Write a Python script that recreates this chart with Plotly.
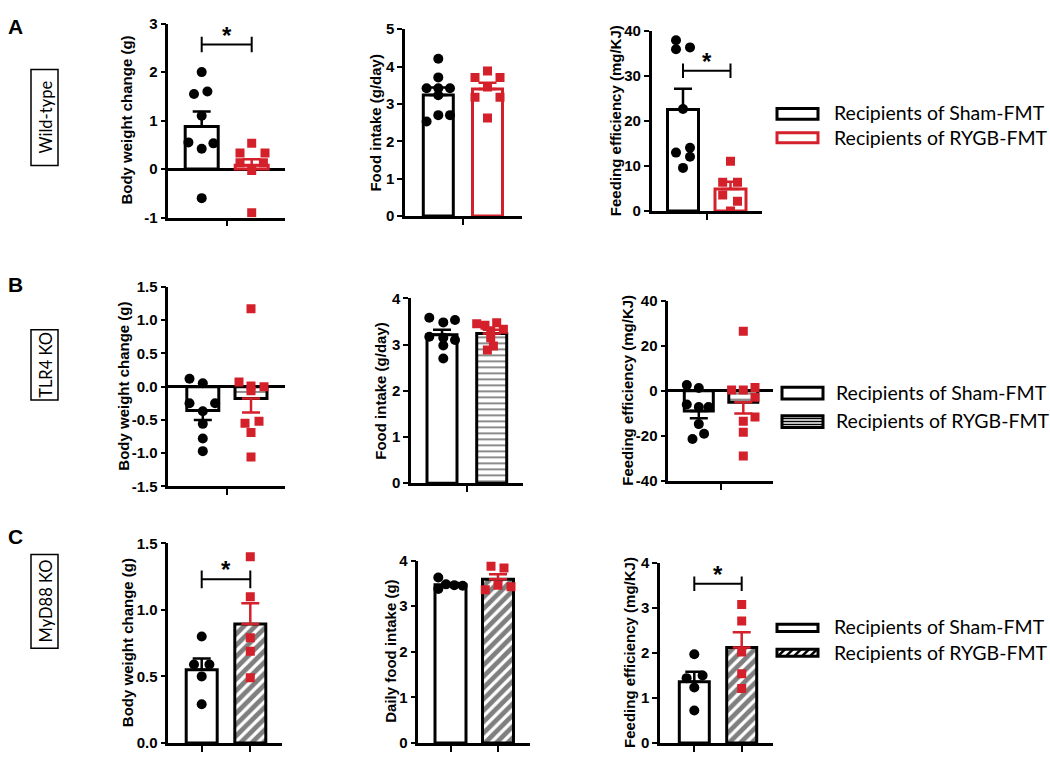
import plotly.graph_objects as go

W, H = 1050, 759
RED = "#D3202A"

# ---------------- data ----------------
# A  wild-type
wt_bw_sham = [2.0, 1.55, 1.6, 1.1, 0.55, 0.42, 0.53, -0.6]
wt_bw_rygb = [0.53, 0.33, 0.33, 0.13, 0.13, -0.03, -0.9]
wt_fi_sham = [4.21, 3.71, 3.42, 3.42, 3.42, 3.23, 2.70, 2.70, 2.53]
wt_fi_rygb = [3.88, 3.71, 3.71, 3.45, 3.18, 3.18, 2.62]
wt_fe_sham = [38.0, 36.0, 36.4, 22.7, 13.0, 14.1, 12.1, 9.6]
wt_fe_rygb = [11.1, 6.4, 6.4, 3.6, 2.2, 0.0]

# B  TLR4 KO
tlr_bw_sham = [0.12, 0.05, -0.25, -0.25, -0.37, -0.56, -0.78, -0.97]
tlr_bw_rygb = [1.17, 0.07, 0.01, 0.0, -0.06, -0.55, -0.52, -0.69, -1.06]
tlr_fi_sham = [3.58, 3.48, 3.53, 3.17, 3.15, 3.10, 2.98, 2.70]
tlr_fi_rygb = [3.45, 3.42, 3.47, 3.33, 3.30, 3.15, 2.97, 2.88]
tlr_fe_sham = [2.5, 1.2, -6.1, -7.2, -7.2, -14.8, -19.1, -21.4]
tlr_fe_rygb = [26.4, 0.3, 0.3, 1.4, -2.9, -11.6, -13.5, -18.4, -29.0]

# C  MyD88 KO
myd_bw_sham = [0.80, 0.59, 0.59, 0.50, 0.29]
myd_bw_rygb = [1.40, 1.10, 0.79, 0.69, 0.49]
myd_fi_sham = [3.63, 3.38, 3.48, 3.46, 3.45]
myd_fi_rygb = [3.88, 3.84, 3.46, 3.43, 3.36]
myd_fe_sham = [1.97, 1.44, 1.50, 1.23, 0.72]
myd_fe_rygb = [3.08, 2.71, 2.02, 1.54, 1.21]

# bar height (mean) and SEM, [sham, rygb]
wt_bw_mean, wt_bw_sem = [0.88, 0.08], [0.31, 0.12]
wt_fi_mean, wt_fi_sem = [3.24, 3.40], [0.20, 0.17]
wt_fe_mean, wt_fe_sem = [22.6, 4.9], [4.6, 1.6]
tlr_bw_mean, tlr_bw_sem = [-0.36, -0.18], [0.14, 0.21]
tlr_fi_mean, tlr_fi_sem = [3.21, 3.24], [0.11, 0.08]
tlr_fe_mean, tlr_fe_sem = [-9.0, -5.1], [3.2, 5.0]
myd_bw_mean, myd_bw_sem = [0.55, 0.895], [0.085, 0.155]
myd_fi_mean, myd_fi_sem = [3.47, 3.59], [0.04, 0.11]
myd_fe_mean, myd_fe_sem = [1.36, 2.12], [0.22, 0.34]

legend_labels = ["Recipients of Sham-FMT", "Recipients of RYGB-FMT"]

# ---------------- layout helpers ----------------
# horizontal scatter of the dots around each bar, in px
jit = {
    "a1": ([0, -7.7, 5.7, 0, -13.3, 0, 11.7, 0], [0, -11.7, 13.3, -11.7, 11.7, 0, 0]),
    "a2": ([0, 0, -11.7, 0, 11.7, 0, 0, 11.7, -11.7], [0, -12.5, 12.5, 0, -12.5, 12.5, 0]),
    "a3": ([-7, -7, 7, 0, -7, 7, 7, 0], [0, -7.8, 7, -7.8, 7, 0]),
    "b1": ([-13.3, 0, -13.3, 12.3, 0, 0, 0, 0], [0, -12, 0, 13, 0, -6, 8, 0, 0]),
    "b2": ([-12.7, 1.3, 13, -12.7, 1.3, 13, 1.3, 1.3], [-15, -6.7, 5, 11.7, -1, -1, 1.7, -4.3]),
    "b3": ([-12, 0, -12, 0, 9.7, 0, 5.3, -6.3], [0, -11.7, 0, 11.7, 11.7, 11.7, 0, 0, 0]),
    "c1": ([0, -7.7, 7.7, 0, 0], [0, 0, 0, 0, 0]),
    "c2": ([-12.2, -12.2, -4.5, 3.8, 12.2], [-7, 6, 0, 13, -12.7]),
    "c3": ([0, -7.7, 8.3, 0, 0], [0, 0, 0, 0, 0]),
}

# key, row, sham, rygb, mean, sem, (x0, x1, bar0, bar1, ytop, ybot), yrange, dtick, decimals, bar px, title, title x
panels = [
    ("a1", "A", wt_bw_sham, wt_bw_rygb, wt_bw_mean, wt_bw_sem, (168.3, 285, 201.7, 251.7, 15, 213.3),
     [-1, 3], 1, 0, 33, "Body weight change (g)", 127),
    ("a2", "A", wt_fi_sham, wt_fi_rygb, wt_fi_mean, wt_fi_sem, (405, 521.7, 438.3, 487.5, 20.7, 211.7),
     [0, 5], 1, 0, 30, "Food intake (g/day)", 376),
    ("a3", "A", wt_fe_sham, wt_fe_rygb, wt_fe_mean, wt_fe_sem, (651.7, 761.7, 683, 730.5, 22.7, 206.7),
     [0, 40], 10, 0, 31, "Feeding efficiency (mg/KJ)", 615),
    ("b1", "B", tlr_bw_sham, tlr_bw_rygb, tlr_bw_mean, tlr_bw_sem, (168.3, 285, 202.8, 251, 284.3, 488.3),
     [-1.5, 1.5], 0.5, 1, 32, "Body weight change (g)", 124),
    ("b2", "B", tlr_fi_sham, tlr_fi_rygb, tlr_fi_mean, tlr_fi_sem, (411, 523, 442, 491.7, 296, 485),
     [0, 4], 1, 0, 30, "Food intake (g/day)", 381),
    ("b3", "B", tlr_fe_sham, tlr_fe_rygb, tlr_fe_mean, tlr_fe_sem, (668.3, 773, 698.8, 743.3, 298.3, 482.7),
     [-40, 40], 20, 0, 29, "Feeding efficiency (mg/KJ)", 628),
    ("c1", "C", myd_bw_sham, myd_bw_rygb, myd_bw_mean, myd_bw_sem, (168.3, 281.7, 201.7, 250.3, 546.7, 750.7),
     [0, 1.5], 0.5, 1, 31, "Body weight change (g)", 127),
    ("c2", "C", myd_fi_sham, myd_fi_rygb, myd_fi_mean, myd_fi_sem, (418.3, 530, 450.5, 498, 564.3, 750.7),
     [0, 4], 1, 0, 31, "Daily food intake (g)", 391),
    ("c3", "C", myd_fe_sham, myd_fe_rygb, myd_fe_mean, myd_fe_sem, (660, 773.3, 694.3, 741.7, 566.7, 750.7),
     [0, 4], 1, 0, 30, "Feeding efficiency (mg/KJ)", 630),
]

# significance brackets: panel key -> (y value, half height)
brackets = {"a1": (2.57, 0.16), "a3": (31.2, 1.6), "c1": (1.23, 0.066), "c3": (3.54, 0.16)}

TICKFONT = dict(family="Liberation Sans", size=15, color="black", weight="bold")
TITLEFONT = dict(family="Liberation Sans", size=15, color="black", weight="bold")
TEXTFONT = dict(family="Lato", size=19.5, color="black")

fig = go.Figure()
shapes = []
annotations = []


def px(x, y):
    return x / W, 1 - y / H


for n, (key, row, sham, rygb, means, sems, geo, yr, dt, dec, bw, title, tx) in enumerate(panels, start=1):
    x0, x1, c0, c1, yt, yb = geo
    s = c1 - c0
    xa, ya = f"x{n}", f"y{n}"
    sfx = "" if n == 1 else str(n)

    rcol = RED if row == "A" else "black"
    pattern = dict(shape="")
    if row == "B":
        pattern = dict(shape="-", fgcolor="black", bgcolor="white", size=6, solidity=0.3)
    elif row == "C":
        pattern = dict(shape="/", fgcolor="black", bgcolor="white", size=8, solidity=0.6)

    for j, (col, pat, ecol) in enumerate([("black", dict(shape=""), "black"), (rcol, pattern, RED)]):
        up, down = ([sems[j]], [0]) if means[j] >= 0 else ([0], [sems[j]])
        fig.add_trace(go.Bar(
            x=[j], y=[means[j]], width=bw / s, xaxis=xa, yaxis=ya,
            marker=dict(color="white", line=dict(color=col, width=3), pattern=pat),
            error_y=dict(type="data", symmetric=False, array=up, arrayminus=down,
                         color=ecol, thickness=2.5, width=9),
            showlegend=False, hoverinfo="skip",
        ))

    js, jr = jit[key]
    fig.add_trace(go.Scatter(
        x=[o / s for o in js], y=sham, xaxis=xa, yaxis=ya, mode="markers",
        marker=dict(symbol="circle", size=10, color="black"), showlegend=False,
    ))
    fig.add_trace(go.Scatter(
        x=[1 + o / s for o in jr], y=rygb, xaxis=xa, yaxis=ya, mode="markers",
        marker=dict(symbol="square", size=9, color=RED), showlegend=False,
    ))

    # tick labels with a plain hyphen for negatives, as in the original
    nt = int(round((yr[1] - yr[0]) / dt))
    tv = [yr[0] + k * dt for k in range(nt + 1)]
    tt = [f"{v:.{dec}f}" for v in tv]

    xtick = [0.5] if row in "AB" else [0, 1]
    fig.layout["xaxis" + sfx] = dict(
        domain=[x0 / W, x1 / W], anchor=ya, range=[(x0 - c0) / s, 1 + (x1 - c1) / s],
        showline=True, linecolor="black", linewidth=2.5, showgrid=False, zeroline=False,
        ticks="outside", tickvals=xtick, ticklen=6, tickwidth=2, tickcolor="black",
        showticklabels=False, fixedrange=True,
    )
    fig.layout["yaxis" + sfx] = dict(
        domain=[1 - yb / H, 1 - yt / H], anchor=xa, range=yr, tickvals=tv, ticktext=tt,
        showline=True, linecolor="black", linewidth=2.5, showgrid=False,
        zeroline=yr[0] < 0, zerolinecolor="black", zerolinewidth=2.5,
        ticks="outside", ticklen=5, tickwidth=2, tickcolor="black", tickfont=TICKFONT,
        fixedrange=True,
    )
    annotations.append(dict(
        x=tx / W, y=1 - (yt + yb) / 2 / H, xref="paper", yref="paper", text=title,
        textangle=-90, showarrow=False, font=TITLEFONT, xanchor="center", yanchor="middle",
    ))

    if key in brackets:
        by, bh = brackets[key]
        for seg in [(0, by, 1, by), (0, by - bh, 0, by + bh), (1, by - bh, 1, by + bh)]:
            shapes.append(dict(type="line", xref=xa, yref=ya, x0=seg[0], y0=seg[1], x1=seg[2], y1=seg[3],
                               line=dict(color="black", width=2)))
        annotations.append(dict(x=0.5, y=by, xref=xa, yref=ya, text="*", showarrow=False,
                                yanchor="bottom", yshift=-6,
                                font=dict(family="Liberation Sans", size=24, color="black", weight="bold")))

# ---------------- legends ----------------
def box(xl, yt_, xr, yb_, color, width=3):
    a, b = px(xl, yt_)
    c, d = px(xr, yb_)
    shapes.append(dict(type="rect", xref="paper", yref="paper", x0=a, y0=d, x1=c, y1=b,
                       line=dict(color=color, width=width), fillcolor="white"))


def line(xa_, ya_, xb_, yb_, width=2):
    a, b = px(xa_, ya_)
    c, d = px(xb_, yb_)
    shapes.append(dict(type="line", xref="paper", yref="paper", x0=a, y0=b, x1=c, y1=d,
                       line=dict(color="black", width=width)))


def label(x, y, text, font=TEXTFONT, anchor="left", angle=0):
    a, b = px(x, y)
    annotations.append(dict(x=a, y=b, xref="paper", yref="paper", text=text, showarrow=False,
                            xanchor=anchor, yanchor="middle", font=font, textangle=angle))


# A legend
box(777, 101.7, 818, 112.7, "black")
box(777, 126.7, 818, 136.7, RED)
label(832, 106, legend_labels[0])
label(832, 131, legend_labels[1])

# B legend
box(782, 387, 823, 399, "black")
box(782, 416, 823, 428, "black")
for yy in (419, 422, 425):
    line(782, yy, 823, yy, width=1.5)
label(834, 392, legend_labels[0])
label(834, 421, legend_labels[1])

# C legend
box(777, 629.3, 818, 636.7, "black")
box(777, 655, 818, 662, "black")
for xx in range(778, 816, 8):
    line(xx, 662, xx + 7, 655, width=2.5)
label(832, 632, legend_labels[0])
label(832, 658, legend_labels[1])

# row letters and genotype boxes
LETTER = dict(family="Liberation Sans", size=21, color="black", weight="bold")
label(6, 18, "A", LETTER)
label(6, 282, "B", LETTER)
label(6, 540, "C", LETTER)

GENO = dict(family="Lato", size=16.5, color="black")
for (yt_, yb_, txt) in [(62, 160, "Wild-type"), (328, 400, "TLR4 KO"), (558, 654, "MyD88 KO")]:
    box(31, yt_, 58, yb_, "black", width=1.5)
    label(46, (yt_ + yb_) / 2, txt, GENO, anchor="center", angle=-90)

fig.update_layout(
    width=W, height=H, margin=dict(l=0, r=0, t=0, b=0),
    paper_bgcolor="white", plot_bgcolor="rgba(0,0,0,0)",
    barmode="overlay", showlegend=False,
    shapes=shapes, annotations=annotations,
)

# drop the browser's default 8px body margin so the figure sits at the page origin
fig.write_html("out.html", config={"displayModeBar": False},
               post_script="document.body.style.margin='0';")
